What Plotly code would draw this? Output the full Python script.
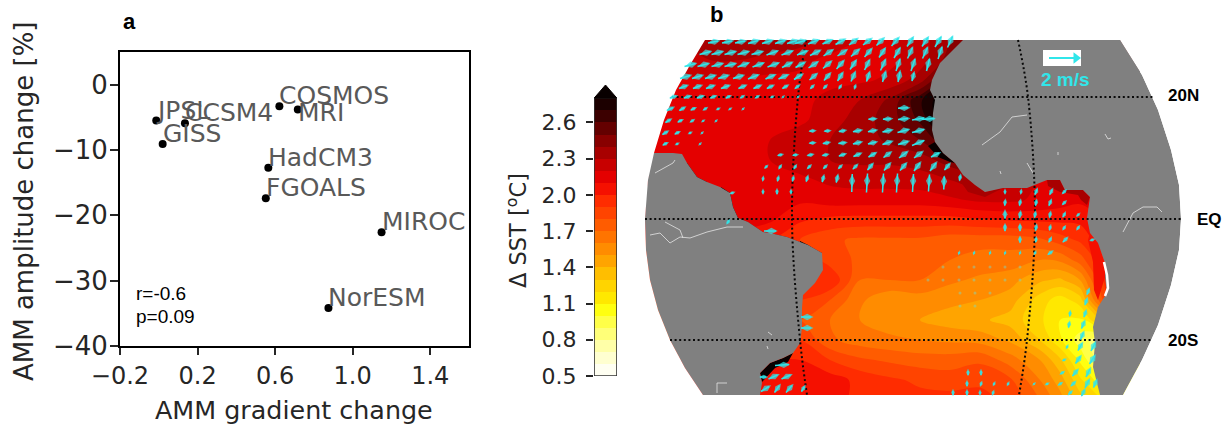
import math
import plotly.graph_objects as go

# ---------- panel a ----------
MODELS = ["JPSL", "CCSM4", "GISS", "COSMOS", "MRI", "HadCM3", "FGOALS", "MIROC", "NorESM"]
GRADIENT = [-0.013, 0.135, 0.02, 0.622, 0.717, 0.565, 0.552, 1.149, 0.875]
AMPLITUDE = [-5.5, -5.9, -9.1, -3.3, -3.8, -12.7, -17.4, -22.6, -34.2]
LABEL_DROP = [0, 0, 0, 0, 14, 0, 0, 0, 0]
X_TICKS = [-0.2, 0.2, 0.6, 1.0, 1.4]
Y_TICKS = [0, -10, -20, -30, -40]

# ---------- colour scale ----------
SST_LEVELS = [0.5, 0.6, 0.7, 0.8, 0.9, 1.0, 1.1, 1.2, 1.3, 1.4, 1.5, 1.6, 1.7, 1.8, 1.9, 2.0, 2.1, 2.2, 2.3, 2.4, 2.5, 2.6, 2.7, 2.8]
SST_COLORS = ["#fffff2", "#ffffd0", "#ffffa8", "#ffff78", "#ffff48", "#ffff10", "#ffe800", "#ffd400", "#ffbe00", "#ffa400",
              "#ff8c00", "#ff7400", "#ff5c00", "#ff4400", "#ff2c00", "#f51000", "#e40000", "#c80000", "#a80000", "#880000",
              "#640000", "#3c0000", "#1c0000", "#080000"]
CBAR_TICKS = [0.5, 0.8, 1.1, 1.4, 1.7, 2.0, 2.3, 2.6]

# ---------- panel b: SST field in map units ----------
MAP_X = [645, 680, 710, 740, 770, 800, 830, 860, 890, 920, 950, 980, 1010, 1040, 1060, 1080, 1100, 1120, 1140]
MAP_Y = [40, 60, 80, 100, 120, 140, 160, 180, 200, 219, 240, 260, 280, 300, 320, 340, 360, 380, 395]
SST = [
 [2.3, 2.3, 2.35, 2.4, 2.4, 2.35, 2.25, 2.2, 2.2, 2.25, 2.4, 2.6, 2.6, 2.6, 2.6, 2.6, 2.6, 2.6, 2.6],
 [2.2, 2.25, 2.3, 2.3, 2.25, 2.22, 2.18, 2.18, 2.18, 2.25, 2.45, 2.7, 2.7, 2.7, 2.7, 2.7, 2.7, 2.7, 2.7],
 [2.18, 2.18, 2.18, 2.18, 2.18, 2.18, 2.18, 2.18, 2.22, 2.35, 2.7, 2.8, 2.8, 2.8, 2.8, 2.8, 2.8, 2.8, 2.8],
 [2.14, 2.14, 2.14, 2.14, 2.14, 2.18, 2.22, 2.3, 2.42, 2.68, 2.95, 2.95, 2.8, 2.8, 2.8, 2.8, 2.8, 2.8, 2.8],
 [2.14, 2.14, 2.14, 2.12, 2.14, 2.18, 2.25, 2.35, 2.45, 2.62, 2.95, 2.95, 2.8, 2.8, 2.8, 2.8, 2.8, 2.8, 2.8],
 [2.15, 2.15, 2.15, 2.15, 2.2, 2.25, 2.3, 2.35, 2.42, 2.5, 2.7, 2.8, 2.6, 2.6, 2.6, 2.6, 2.6, 2.6, 2.6],
 [2.2, 2.2, 2.2, 2.2, 2.2, 2.25, 2.3, 2.32, 2.32, 2.35, 2.45, 2.5, 2.4, 2.4, 2.4, 2.4, 2.4, 2.4, 2.4],
 [2.2, 2.2, 2.2, 2.2, 2.18, 2.18, 2.22, 2.24, 2.24, 2.25, 2.3, 2.35, 2.25, 2.2, 2.15, 2.15, 2.15, 2.15, 2.15],
 [2.2, 2.2, 2.2, 2.2, 2.15, 2.12, 2.15, 2.15, 2.15, 2.15, 2.18, 2.22, 2.22, 2.18, 2.15, 2.12, 2.15, 2.2, 2.2],
 [2.2, 2.2, 2.2, 2.2, 2.12, 2.02, 1.98, 1.97, 1.97, 1.97, 1.97, 2.0, 2.02, 2.03, 2.03, 2.03, 2.1, 2.2, 2.2],
 [2.0, 2.0, 2.0, 2.0, 2.0, 1.9, 1.82, 1.78, 1.78, 1.78, 1.74, 1.74, 1.74, 1.78, 1.85, 1.92, 2.05, 2.2, 2.2],
 [2.0, 2.0, 2.0, 2.0, 2.0, 2.0, 1.85, 1.78, 1.78, 1.78, 1.7, 1.66, 1.66, 1.6, 1.62, 1.75, 1.95, 2.15, 2.2],
 [2.0, 2.0, 2.0, 2.0, 2.0, 2.0, 2.0, 1.7, 1.7, 1.7, 1.62, 1.58, 1.54, 1.42, 1.38, 1.5, 1.85, 2.15, 2.2],
 [1.9, 1.9, 1.9, 1.9, 1.9, 1.9, 1.8, 1.62, 1.52, 1.55, 1.53, 1.5, 1.45, 1.25, 1.15, 1.25, 1.75, 2.1, 2.2],
 [1.8, 1.8, 1.8, 1.8, 1.8, 1.8, 1.7, 1.6, 1.55, 1.5, 1.45, 1.42, 1.36, 1.22, 1.1, 1.08, 1.3, 1.8, 2.0],
 [1.9, 1.9, 1.9, 1.9, 1.9, 1.9, 1.72, 1.65, 1.62, 1.6, 1.58, 1.56, 1.48, 1.3, 1.12, 0.95, 0.85, 1.2, 1.5],
 [2.0, 2.0, 2.0, 2.0, 2.0, 2.0, 1.9, 1.82, 1.78, 1.75, 1.75, 1.78, 1.65, 1.5, 1.32, 1.08, 0.85, 1.0, 1.2],
 [2.1, 2.1, 2.1, 2.1, 2.1, 2.1, 2.05, 1.97, 1.92, 1.88, 1.85, 1.88, 1.82, 1.6, 1.45, 1.22, 1.05, 1.0, 1.0],
 [2.1, 2.1, 2.1, 2.1, 2.1, 2.1, 2.05, 1.97, 1.92, 1.92, 1.92, 1.92, 1.87, 1.68, 1.52, 1.32, 1.18, 1.1, 1.1],
]

LAND_W_X = [653, 673, 682, 687, 697, 707, 720, 730, 733, 738, 748, 763, 770, 787, 808, 822, 823, 815, 803, 802, 802, 800, 793, 783, 770, 760, 762, 760,
            703, 685, 670, 658, 650, 646, 645, 646, 649, 653]
LAND_W_Y = [153, 153, 154, 163, 177, 182, 187, 193, 207, 218, 222, 232, 233, 237, 245, 253, 270, 283, 295, 308, 328, 343, 353, 358, 363, 373, 383, 395,
            395, 368, 340, 310, 280, 250, 219, 195, 170, 153]
LAND_E_X = [963, 953, 940, 932, 930, 935, 933, 932, 935, 943, 955, 963, 975, 985, 1003, 1027, 1035, 1047, 1060, 1065, 1083, 1090, 1087, 1090, 1098, 1105, 1105, 1107, 1098, 1093, 1095, 1093, 1100,
            1123, 1142, 1158, 1171, 1179, 1181, 1179, 1171, 1158, 1142, 1120]
LAND_E_Y = [40, 50, 63, 80, 90, 100, 113, 130, 142, 153, 163, 175, 185, 192, 188, 188, 185, 180, 180, 190, 190, 197, 218, 233, 243, 263, 277, 293, 307, 327, 343, 367, 395,
            395, 360, 325, 285, 250, 219, 185, 150, 110, 75, 40]
# white masks outside the globe's limb
MASKS = [
 ([630, 1240, 1240, 630], [28, 28, 40, 40]),
 ([630, 1240, 1240, 630], [395, 395, 410, 410]),
 ([630, 705, 690, 676, 664, 654, 648, 645, 630], [40, 40, 65, 90, 120, 153, 180, 219, 219]),
 ([630, 645, 646, 650, 658, 670, 685, 703, 630], [219, 219, 250, 280, 310, 340, 368, 395, 395]),
 ([1120, 1142, 1158, 1171, 1179, 1181, 1240, 1240], [40, 75, 110, 150, 185, 219, 219, 40]),
 ([1181, 1179, 1171, 1158, 1142, 1123, 1240, 1240], [219, 250, 285, 325, 360, 395, 395, 219]),
]

# dark coastal patches (value, x, y)
PATCHES = [
 (2.8, [687, 697, 707, 705, 696, 690, 684], [163, 177, 182, 186, 182, 175, 167]),
 (2.8, [721, 730, 733, 738, 735, 729, 724], [187, 193, 207, 218, 219, 208, 195]),
 (2.4, [738, 748, 763, 770, 787, 808, 822, 815, 800, 780, 760, 745], [218, 222, 232, 233, 237, 245, 253, 254, 250, 243, 238, 229]),
 (2.8, [800, 808, 814, 806, 800], [241, 245, 249, 248, 245]),
 (2.8, [935, 943, 955, 950, 938, 928], [142, 153, 163, 162, 157, 146]),
 (2.8, [793, 783, 770, 760, 762, 768, 775, 788], [353, 358, 363, 373, 382, 376, 368, 362]),
 (2.3, [963, 975, 985, 1003, 985, 968, 958], [175, 185, 192, 188, 197, 192, 178]),
 (2.3, [1047, 1060, 1065, 1083, 1090, 1087, 1081, 1078, 1060, 1048], [180, 180, 190, 190, 197, 205, 200, 195, 192, 186]),
 (2.0, [1090, 1098, 1105, 1105, 1098, 1094, 1093, 1088], [233, 243, 263, 277, 300, 290, 262, 240]),
]
COAST_EDGE_X = [1104, 1107, 1108, 1105]
COAST_EDGE_Y = [262, 275, 288, 296]

RIVERS = [
 ([650, 660, 670, 680, 690, 707, 727, 743], [235, 233, 243, 237, 238, 232, 227, 227]),
 ([665, 680, 683], [222, 230, 238]),
 ([655, 673, 675], [173, 163, 160]),
 ([717, 717, 727], [393, 383, 383]),
 ([768, 772], [332, 335]),
 ([767, 768], [346, 349]),
 ([1123, 1133, 1143, 1157, 1162], [232, 213, 207, 207, 212]),
 ([982, 1000, 1012, 1027], [145, 132, 117, 115]),
 ([1105, 1108, 1111], [134, 139, 138]),
 ([1027, 1033], [163, 173]),
 ([1000, 1001], [171, 174]),
 ([1058, 1058], [152, 155]),
]

PARALLEL_Y = [97, 219, 340]
PARALLEL_X0 = [672, 645, 670]
PARALLEL_X1 = [1153, 1181, 1153]
MERIDIAN_Y = [40, 97, 219, 340, 395]
MERIDIAN_W = [806, 798, 792, 800, 807]
MERIDIAN_E = [1018, 1028, 1035, 1027, 1019]

# ---------- wind vectors: row y, centre x, u (east), v (north) ----------
VEC_ROWS = [
 (42, [713, 727, 740, 753, 767, 780, 792, 800, 813, 827, 840, 853, 867, 880, 895, 910, 925, 938, 950],
      [10, 10, 10, 10, 10, 10, 10, 10, 10, 9, 9, 8, 8, 7, 7, 6, 6, 6, 5],
      [2, 2, 2, 3, 3, 3, 3, 3, 4, 4, 5, 6, 6, 7, 8, 9, 9, 10, 11]),
 (53, [705, 717, 730, 743, 757, 772, 787, 802, 815, 828, 842, 855, 868, 882, 897, 910, 925, 940],
      [11, 11, 11, 11, 11, 11, 11, 10, 10, 9, 9, 8, 7, 6, 6, 5, 5, 4],
      [3, 3, 3, 3, 3, 4, 4, 4, 5, 6, 6, 7, 8, 9, 10, 11, 11, 12]),
 (65, [690, 703, 717, 730, 743, 758, 773, 787, 800, 813, 827, 840, 853, 867, 883, 898, 913, 928],
      [11, 11, 11, 11, 11, 11, 11, 10, 9, 9, 8, 7, 6, 5, 5, 4, 4, 3],
      [3, 3, 3, 3, 4, 4, 4, 5, 5, 6, 7, 8, 9, 10, 11, 12, 12, 12]),
 (77, [685, 697, 710, 723, 738, 753, 770, 783, 798, 813, 827, 840, 853, 868, 884, 899, 913],
      [10, 10, 10, 10, 10, 10, 9, 9, 8, 7, 6, 5, 4, 3, 3, 2, 2],
      [3, 3, 3, 3, 3, 4, 4, 4, 5, 6, 7, 8, 9, 9, 10, 10, 8]),
 (87, [683, 697, 710, 725, 742, 757, 770, 785, 797, 812, 825, 840, 855],
      [8, 8, 8, 8, 7, 7, 6, 5, 4, 3, 3, 2, 1],
      [3, 3, 3, 3, 3, 3, 3, 3, 3, 3, 3, 3, 3]),
 (97, [673, 687, 700, 713, 728, 742, 757, 772, 783, 798],
      [6, 6, 6, 5, 4, 3, 3, 2, 1, 1],
      [2, 2, 2, 2, 2, 2, 2, 1, 1, 1]),
 (109, [670, 682, 693, 705, 718, 730, 743],
      [6, 5, 4, 3, 2, 1.5, 1],
      [3, 3, 2, 2, 1, 1, 1]),
 (121, [668, 680, 692, 703, 716], [5, 4, 3, 1.5, 1], [3, 2, 2, 1, 1]),
 (133, [665, 677, 690, 702], [5, 4, 2, 1], [3, 2, 1, 1]),
 (144, [665, 677, 700], [4, 2, 1], [2, 1, 1]),
 (108, [903], [10], [0.5]),
 (119, [872, 887, 903, 918, 928], [7, 8, 10, 12, 13], [0.5, 0.5, 1, 2, 1]),
 (131, [812, 827, 842, 857, 872, 887, 903, 918], [5, 5, 6, 8, 8, 9, 11, 12], [0.5, 0.5, 1, 1.5, 1.5, 2, 3, 3]),
 (143, [812, 826, 842, 857, 872, 887, 903, 918], [5, 6, 7, 8, 8, 9, 10, 12], [0.5, 1, 1, 2, 2, 3, 3, 5]),
 (155, [780, 795, 810, 825, 842, 857, 872, 887, 903, 918, 935], [4, 4, 5, 5, 6, 7, 7, 7, 8, 8, 8], [1, 0.5, 1, 1, 2, 3, 4, 5, 6, 6, 4]),
 (167, [766, 780, 795, 809, 825, 840, 855, 870, 887, 903, 917, 933, 947], [2, 2, 2, 3, 3, 3, 4, 5, 6, 6, 6, 6, 5], [2, 3, 3, 3, 3, 3, 4, 6, 7, 7, 8, 8, 6]),
 (179, [763, 778, 793, 807, 823, 837], [0.5, 1, 1, 1.5, 1.5, 1.5], [3, 4, 4, 5, 6, 7]),
 (192, [763, 777, 791], [0, 0, 0], [3, 4, 3]),
 (183, [852, 867, 883, 897, 913, 929, 944], [0.5, 1, 1, 1, 1, 1, 0.5], [18, 19, 19, 19, 18, 17, 13]),
 (178, [960], [1], [5]),
 (192, [1005, 1021, 1036, 1051, 1064], [0, 0.5, 2, 2.5, 3], [3, 3, 5, 5, 3]),
 (203, [1005, 1020, 1036, 1050, 1064], [0.5, 1, 1, 2, 3], [5, 5, 5, 5, 3]),
 (215, [1005, 1020, 1035, 1050, 1064, 1078], [0, 1, 1, 1, 2, 2], [7, 6, 5, 5, 4, 2]),
 (228, [1005, 1020, 1036, 1050, 1064, 1078], [0, 0, 1, 1, 2, 2], [6, 6, 5, 4, 3, 3]),
 (240, [1020, 1036, 1050, 1065, 1092], [0, 0.5, 2, 4, 3], [5, 4, 4, 4, 1]),
 (253, [959, 974, 990, 1005, 1020, 1035, 1050], [0.5, 0.5, 0.5, 0.5, 0.5, 1, 4], [1.5, 1.5, 1.5, 1.5, 1.5, 2, 3]),
 (373, [968, 981], [0, 0], [4, 4]),
 (384, [967, 981, 994, 1008], [0, 1, 1, 1], [4, 3, 2, 2]),
 (393, [953, 967, 980, 993], [0, 0, 0, 1], [4, 4, 3, 3]),
 (292, [1088], [2], [5]),
 (302, [1086], [2], [6]),
 (314, [1070, 1085], [0.5, 2], [4, 6]),
 (325, [1069, 1083], [1, 3], [5, 7]),
 (336, [1082], [3], [7]),
 (347, [1067, 1080, 1093], [1, 4, 4], [2, 7, 8]),
 (360, [1064, 1078, 1092], [2, 5, 5], [1, 7, 8]),
 (373, [1062, 1075, 1088], [3, 5, 4], [2, 6, 8]),
 (384, [1034, 1047, 1060, 1073, 1087, 1095], [1, 2, 3, 4, 4, 3], [1, 1, 2, 4, 8, 7]),
 (393, [1070, 1083], [3, 3], [3, 6]),
 (317, [806], [10], [0]),
 (328, [806], [10], [0]),
 (365, [782], [14], [1]),
 (377, [763, 773, 786], [6, 9, 9], [0, 4, 4]),
 (389, [765, 777, 789, 803], [8, 5, 6, 3], [5, 7, 7, 5]),
 (193, [732], [3], [1]),
 (222, [728], [2], [3]),
 (231, [770], [12], [0]),
]
# very weak vectors, only faintly visible
FAINT_X = [943, 959, 974, 990, 1005, 1020, 928, 943, 959, 974, 990, 1005, 1020, 960, 975, 990, 960, 975]
FAINT_Y = [267, 267, 267, 267, 267, 267, 280, 280, 280, 280, 280, 280, 280, 293, 293, 293, 306, 306]

KEY_X = [1049, 1076]
KEY_Y = [58, 58]
KEY_BOX_X = [1043, 1081, 1081, 1043, 1043]
KEY_BOX_Y = [50, 50, 66, 66, 50]

# ---------- helpers ----------
W, H = 1231, 425
TXT = "#262626"
CYAN = "#30e6ea"
DOT = "#0a0a0a"

n = len(SST_LEVELS)
sst_scale = []
for i, c in enumerate(SST_COLORS):
    sst_scale.append([i / n, c])
    sst_scale.append([(i + 1) / n, c])
vmin, vmax = 0.5, 0.5 + 0.1 * n


def level_color(value):
    i = min(n - 1, max(0, int(round((value - 0.5) / 0.1))))
    return SST_COLORS[i]


fig = go.Figure()

# panel a
fig.add_trace(go.Scatter(x=GRADIENT, y=AMPLITUDE, mode="markers", marker=dict(color="black", size=8), xaxis="x", yaxis="y"))

# colour bar
fig.add_trace(go.Heatmap(x=[0, 1], y=SST_LEVELS, z=[[l + 0.05] for l in SST_LEVELS[:-1]],
                         colorscale=sst_scale, zmin=vmin, zmax=vmax, showscale=False, xaxis="x3", yaxis="y3"))
fig.add_trace(go.Scatter(x=[0, 0.5, 1, 0], y=[2.8, 2.91, 2.8, 2.8], mode="lines", fill="toself", fillcolor="#080000",
                         line=dict(color="#080000", width=1), xaxis="x3", yaxis="y3"))
fig.add_trace(go.Scatter(x=[0, 0, 1, 1], y=[2.8, 0.5, 0.5, 2.8], mode="lines", line=dict(color="#333333", width=1.6),
                         cliponaxis=False, xaxis="x3", yaxis="y3"))

# map field
fig.add_trace(go.Contour(x=MAP_X, y=MAP_Y, z=SST, colorscale=sst_scale, zmin=vmin, zmax=vmax, showscale=False,
                         contours=dict(start=0.5, end=2.9, size=0.1, coloring="fill", showlines=False),
                         line=dict(width=0), xaxis="x2", yaxis="y2"))
for val, px, py in PATCHES:
    fig.add_trace(go.Scatter(x=px + px[:1], y=py + py[:1], mode="lines", fill="toself", fillcolor=level_color(val),
                             line=dict(width=0, color=level_color(val)), xaxis="x2", yaxis="y2"))
# land, limb mask
for px, py in [(LAND_W_X, LAND_W_Y), (LAND_E_X, LAND_E_Y)]:
    fig.add_trace(go.Scatter(x=px, y=py, mode="lines", fill="toself", fillcolor="#808080", line=dict(width=0, color="#808080"), xaxis="x2", yaxis="y2"))
for px, py in MASKS:
    fig.add_trace(go.Scatter(x=px + px[:1], y=py + py[:1], mode="lines", fill="toself", fillcolor="white", line=dict(width=0, color="white"), xaxis="x2", yaxis="y2"))
fig.add_trace(go.Scatter(x=COAST_EDGE_X, y=COAST_EDGE_Y, mode="lines", line=dict(color="white", width=2.5), xaxis="x2", yaxis="y2"))
for px, py in RIVERS:
    fig.add_trace(go.Scatter(x=px, y=py, mode="lines", line=dict(color="rgba(235,235,235,0.75)", width=1), xaxis="x2", yaxis="y2"))

# graticule
for y, x0, x1 in zip(PARALLEL_Y, PARALLEL_X0, PARALLEL_X1):
    fig.add_trace(go.Scatter(x=[x0, x1], y=[y, y], mode="lines", line=dict(color=DOT, width=2, dash="2px,2.6px"), xaxis="x2", yaxis="y2"))
for mx in (MERIDIAN_W, MERIDIAN_E):
    fig.add_trace(go.Scatter(x=mx, y=MERIDIAN_Y, mode="lines", line=dict(color=DOT, width=2, dash="2px,2.6px", shape="spline"), xaxis="x2", yaxis="y2"))

# wind vectors
sx, sy, hx, hy, ang, siz = [], [], [], [], [], []
for y, xs, us, vs in VEC_ROWS:
    for x, u, v in zip(xs, us, vs):
        mag = math.hypot(u, v)
        sx += [x - u / 2, x + u / 2, None]
        sy += [y + v / 2, y - v / 2, None]
        hx.append(x + 0.12 * u)
        hy.append(y - 0.12 * v)
        ang.append(math.degrees(math.atan2(u, v)))
        siz.append(min(9, 3 + 0.6 * mag))
fig.add_trace(go.Scatter(x=sx, y=sy, mode="lines", line=dict(color=CYAN, width=1.5), xaxis="x2", yaxis="y2"))
fig.add_trace(go.Scatter(x=hx, y=hy, mode="markers", marker=dict(symbol="diamond-tall", color=CYAN, size=siz, angle=ang, line=dict(width=0)),
                         xaxis="x2", yaxis="y2"))
fig.add_trace(go.Scatter(x=FAINT_X, y=FAINT_Y, mode="markers", marker=dict(symbol="circle", color="rgba(120,220,200,0.45)", size=3),
                         xaxis="x2", yaxis="y2"))
# reference vector
fig.add_trace(go.Scatter(x=KEY_BOX_X, y=KEY_BOX_Y, mode="lines", fill="toself", fillcolor="white", line=dict(width=0, color="white"), xaxis="x2", yaxis="y2"))
fig.add_trace(go.Scatter(x=KEY_X, y=KEY_Y, mode="lines", line=dict(color=CYAN, width=2), xaxis="x2", yaxis="y2"))
fig.add_trace(go.Scatter(x=KEY_X[-1:], y=KEY_Y[-1:], mode="markers", marker=dict(symbol="triangle-right", color=CYAN, size=10), xaxis="x2", yaxis="y2"))

annotations = []
for name, x, y, drop in zip(MODELS, GRADIENT, AMPLITUDE, LABEL_DROP):
    annotations.append(dict(x=x, y=y, xref="x", yref="y", text=name, showarrow=False, xanchor="left", yanchor="bottom",
                            font=dict(family="DejaVu Sans", size=25, color="#595959"), xshift=-2, yshift=-6 - drop))


def page_text(text, x, y, size, family="Liberation Sans", color="black", bold=False, rot=0, anchor="left"):
    annotations.append(dict(x=x / W, y=1 - y / H, xref="paper", yref="paper", text=f"<b>{text}</b>" if bold else text, showarrow=False,
                            xanchor=anchor, yanchor="middle", textangle=rot, font=dict(family=family, size=size, color=color)))


page_text("a", 121, 22, 22, bold=True)
page_text("b", 708, 15, 22, bold=True)
page_text("r=-0.6", 134, 293, 19)
page_text("p=0.09", 134, 316, 19)
page_text("AMM gradient change", 294, 410, 25.4, "DejaVu Sans", TXT, anchor="center")
page_text("AMM amplitude change [%]", 24, 201, 26, "DejaVu Sans", TXT, rot=-90, anchor="center")
page_text("Δ SST [<sup>o</sup>C]", 516, 231, 22.5, "DejaVu Sans", TXT, rot=-90, anchor="center")
page_text("20N", 1166, 96, 17, bold=True)
page_text("EQ", 1195, 219, 17, bold=True)
page_text("20S", 1166, 340, 17, bold=True)
page_text("2 m/s", 1065, 79, 19, color=CYAN, bold=True, anchor="center")

xfont = dict(family="DejaVu Sans", size=24, color=TXT)
yfont = dict(family="DejaVu Sans", size=26, color=TXT)
cfont = dict(family="DejaVu Sans", size=22, color=TXT)
fig.update_layout(
    width=W, height=H, margin=dict(l=0, r=0, t=0, b=0, autoexpand=False), paper_bgcolor="white", plot_bgcolor="white", showlegend=False,
    annotations=annotations,
    xaxis=dict(domain=[120 / W, 469 / W], range=[-0.2, 1.6], tickvals=X_TICKS, ticktext=["\u22120.2", "0.2", "0.6", "1.0", "1.4"], ticks="outside", ticklen=7, tickwidth=1.5,
               tickcolor=TXT, showgrid=False, zeroline=False, showline=True, mirror=True, linecolor="black", linewidth=2, tickfont=xfont, anchor="y"),
    yaxis=dict(domain=[1 - 346 / H, 1 - 52 / H], range=[-40, 5], tickvals=Y_TICKS, ticks="outside", ticklen=8, tickwidth=1.5, ticklabelstandoff=-3,
               tickcolor=TXT, showgrid=False, zeroline=False, showline=True, mirror=True, linecolor="black", linewidth=2, tickfont=yfont, anchor="x"),
    xaxis2=dict(domain=[640 / W, 1], range=[640, 1231], visible=False, anchor="y2"),
    yaxis2=dict(domain=[1 - 400 / H, 1 - 30 / H], range=[400, 30], visible=False, anchor="x2"),
    xaxis3=dict(domain=[594 / W, 617 / W], range=[0, 1], visible=False, anchor="y3"),
    yaxis3=dict(domain=[1 - 376 / H, 1 - 85 / H], range=[0.5, 2.91], tickvals=CBAR_TICKS, ticktext=[f"{t:.1f}" for t in CBAR_TICKS], ticks="outside", ticklen=7, tickwidth=1.5, ticklabelstandoff=5,
                tickcolor=TXT, showgrid=False, zeroline=False, showline=False, tickfont=cfont, anchor="x3"),
)

fig.write_html("out.html", config={"displayModeBar": False},
               post_script="document.body.style.margin='0';document.documentElement.style.overflow='hidden';")
